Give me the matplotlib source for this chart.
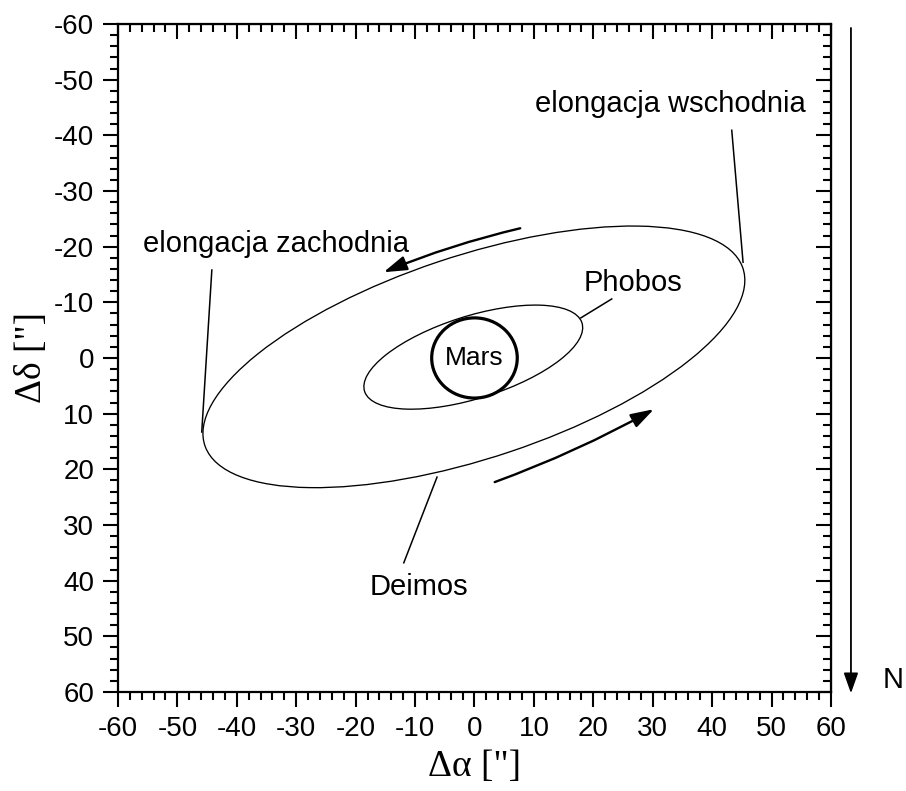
import matplotlib.pyplot as plt
from matplotlib.patches import Ellipse, Circle
from matplotlib.ticker import MultipleLocator

plt.rcParams['font.family'] = ['Liberation Sans', 'DejaVu Sans']
plt.rcParams['axes.unicode_minus'] = False

# orbits: centre, full width, full height, tilt (deg, data space)
ORBIT_NAMES = ['Deimos', 'Phobos']
ORBIT_CENTER = [(-0.1, -0.2), (-0.2, -0.15)]
ORBIT_WIDTH = [96.0, 38.6]
ORBIT_HEIGHT = [36.2, 14.7]
ORBIT_ANGLE = [-19.7, -18.9]
MARS_RADIUS = 7.2

# labels: text, text position, leader line start, leader line end
LABEL_TEXT = ['elongacja zachodnia', 'elongacja wschodnia', 'Phobos', 'Deimos']
LABEL_POS = [(-33.4, -19.0), (33.0, -44.2), (26.6, -12.0), (-9.4, 42.5)]
LEADER_FROM = [(-44.2, -15.8), (43.3, -40.9), (23.1, -10.6), (-11.9, 36.8)]
LEADER_TO = [(-45.9, 13.3), (45.2, -17.2), (17.9, -7.2), (-6.3, 21.4)]

# direction of motion arrows: tail, head
MOTION_TAIL = [(7.7, -23.3), (3.4, 22.3)]
MOTION_HEAD = [(-15.3, -15.4), (30.2, 9.2)]

fig = plt.figure(figsize=(9.06, 7.91), dpi=100)
ax = fig.add_axes([0.1302, 0.1252, 0.787, 0.8445])

for c, w, h, a in zip(ORBIT_CENTER, ORBIT_WIDTH, ORBIT_HEIGHT, ORBIT_ANGLE):
    ax.add_patch(Ellipse(c, w, h, angle=a, fill=False, ec='black', lw=0.95))
ax.add_patch(Circle((0, 0), MARS_RADIUS, fill=False, ec='black', lw=2.3))
ax.text(0, 1.3, 'Mars', ha='center', va='baseline', fontsize=19)

for txt, pos, p0, p1 in zip(LABEL_TEXT, LABEL_POS, LEADER_FROM, LEADER_TO):
    ax.text(pos[0], pos[1], txt, ha='center', va='baseline', fontsize=21)
    ax.plot([p0[0], p1[0]], [p0[1], p1[1]], color='black', lw=1.1)

for tail, head in zip(MOTION_TAIL, MOTION_HEAD):
    ax.annotate('', xy=head, xytext=tail,
                arrowprops=dict(arrowstyle='-|>,head_length=0.7,head_width=0.22',
                                color='black', lw=1.7, mutation_scale=20,
                                shrinkA=0, shrinkB=0,
                                connectionstyle='arc3,rad=0.04'))

# north arrow outside the frame
ax.annotate('', xy=(1.028, -0.002), xytext=(1.028, 0.994),
            xycoords='axes fraction', textcoords='axes fraction',
            arrowprops=dict(arrowstyle='-|>,head_length=0.62,head_width=0.22',
                            color='black', lw=1.3, mutation_scale=20,
                            shrinkA=0, shrinkB=0))
ax.text(1.087, 0.018, 'N', transform=ax.transAxes, ha='center', va='center',
        fontsize=21)

ax.set_xlim(-60, 60)
ax.set_ylim(60, -60)
ax.xaxis.set_major_locator(MultipleLocator(10))
ax.xaxis.set_minor_locator(MultipleLocator(2))
ax.yaxis.set_major_locator(MultipleLocator(10))
ax.yaxis.set_minor_locator(MultipleLocator(2))

for s in ax.spines.values():
    s.set_linewidth(1.6)
ax.tick_params(which='both', direction='out', top=False, right=False,
               labelsize=20, width=1.5, pad=6)
ax.tick_params(which='major', length=11)
ax.tick_params(which='minor', length=6)

# inward ticks on the top and right sides
axt = ax.secondary_xaxis('top')
axt.xaxis.set_major_locator(MultipleLocator(10))
axt.xaxis.set_minor_locator(MultipleLocator(2))
axt.tick_params(which='both', direction='in', labeltop=False, width=1.5)
axt.tick_params(which='major', length=11)
axt.tick_params(which='minor', length=6)
axr = ax.secondary_yaxis('right')
axr.yaxis.set_major_locator(MultipleLocator(10))
axr.yaxis.set_minor_locator(MultipleLocator(2))
axr.tick_params(which='both', direction='in', labelright=False, width=1.5)
axr.tick_params(which='major', length=11)
axr.tick_params(which='minor', length=6)

ax.set_xlabel('\u0394\u03b1 ["]', family=['Liberation Serif', 'DejaVu Serif'],
              fontsize=27, labelpad=6)
ax.set_ylabel('\u0394\u03b4 ["]', family=['Liberation Serif', 'DejaVu Serif'],
              fontsize=27, labelpad=4)

fig.savefig('out.png', dpi=100)
